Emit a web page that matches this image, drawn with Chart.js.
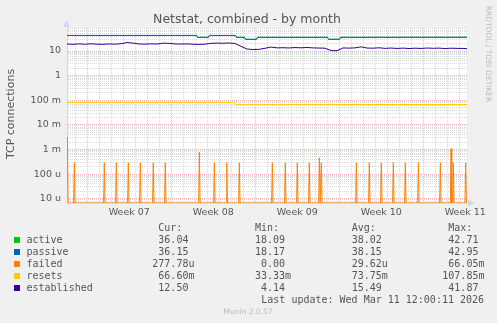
<!DOCTYPE html>
<html>
<head>
<meta charset="utf-8">
<script src="https://cdn.jsdelivr.net/npm/chart.js@4.4.1/dist/chart.umd.min.js"></script>
<style>
  html, body { margin:0; padding:0; background:#f0f0f0; }
  #wrap { width:497px; height:323px; }
</style>
</head>
<body>
<div id="wrap"><canvas id="netstat" width="497" height="323"></canvas></div>
<script>
// dados (x em dias desde o inicio do periodo)
const X_MAX = 33.33;
const Y_MIN = 6.7e-6;
const Y_MAX = 86;

const weekStartDays = [1.69, 8.69, 15.69, 22.69, 29.69];
const weekLabelDays = [5.19, 12.19, 19.19, 26.19, 33.19];
const weekLabels = ['Week 07', 'Week 08', 'Week 09', 'Week 10', 'Week 11'];

const yTickVals = [1e-5, 1e-4, 1e-3, 1e-2, 1e-1, 1, 10];
const yTickLabels = ['10 u', '100 u', '1 m', '10 m', '100 m', '1', '10'];

const seriesNames = ['active', 'passive', 'failed', 'resets', 'established'];
const seriesColors = ['#00CC00', '#0066B3', '#FF8000', '#FFCC00', '#330099'];

const passiveDays = [0, 10.78, 10.88, 11.78, 11.88, 14.03, 14.13, 14.78, 14.88, 15.78, 15.88, 21.7, 21.8, 22.7, 22.8, 33.33];
const passiveVals = [43, 43, 36, 36, 43, 43, 36, 36, 30, 30, 36, 36, 30, 30, 36, 36.15];
const activeDays = [0, 10.78, 10.88, 11.78, 11.88, 14.03, 14.13, 14.78, 14.88, 15.78, 15.88, 21.7, 21.8, 22.7, 22.8, 33.33];
const activeVals = [42.7, 42.7, 35.8, 35.8, 42.7, 42.7, 35.8, 35.8, 29.8, 29.8, 35.8, 35.8, 29.8, 29.8, 35.8, 36.04];

const resetsDays = [0, 13.95, 14.05, 33.33];
const resetsVals = [0.08, 0.08, 0.068, 0.0666];

// failed: zero na maior parte, picos diarios
const failedSpikeDays = [0.03, 0.61, 3.11, 4.11, 5.11, 6.11, 7.19, 8.19, 11.03, 12.28, 13.31, 14.36,
  17.11, 18.19, 19.19, 20.19, 21.03, 21.19, 24.11, 25.19, 26.19, 27.19, 28.19, 29.28, 31.11, 32.0, 32.19, 33.22];
const failedSpikeVals = [3.1e-3, 2.9e-4, 2.9e-4, 2.9e-4, 2.9e-4, 2.9e-4, 2.9e-4, 2.9e-4, 7.8e-4, 2.9e-4, 2.9e-4, 2.9e-4,
  2.9e-4, 2.9e-4, 2.9e-4, 2.9e-4, 4.6e-4, 2.9e-4, 2.9e-4, 2.9e-4, 2.9e-4, 2.9e-4, 2.9e-4, 2.9e-4, 2.9e-4, 1.07e-3, 2.9e-4, 2.9e-4];

// established, uma amostra a cada meio dia
const estVals = [19.3, 18.6, 19.5, 18.8, 19.6, 19.0, 18.7, 19.4, 19.0, 19.8,
  22.0, 21.0, 19.3, 19.0, 19.6, 19.2, 20.8, 20.5, 19.4, 19.2,
  19.5, 18.8, 18.6, 18.9, 20.5, 21.0, 20.6, 21.2, 20.2, 15.5,
  12.0, 11.5, 11.7, 12.9, 14.5, 13.4, 13.6, 13.3, 13.8, 13.5,
  13.9, 13.4, 13.2, 13.0, 10.4, 10.3, 13.3, 13.1, 13.4, 14.8,
  13.2, 13.0, 13.5, 12.8, 13.2, 12.7, 13.1, 12.6, 13.0, 12.7,
  13.2, 12.9, 13.1, 12.6, 13.0, 12.8, 12.7, 12.5];

const curVals = ['36.04', '36.15', '277.78u', '66.60m', '12.50'];
const minVals = ['18.09', '18.17', '0.00', '33.33m', '4.14'];
const avgVals = ['38.02', '38.15', '29.62u', '73.75m', '15.49'];
const maxVals = ['42.71', '42.95', '66.05m', '107.85m', '41.87'];
const lastUpdate = 'Last update: Wed Mar 11 12:00:11 2026';
const footer = 'Munin 2.0.57';

const GRID = 'rgba(143,143,143,0.33)';
const MGRID = 'rgba(222,80,80,0.38)';
const AXIS = '#CFD6F8';
const FONT_COLOR = '#555555';

function pares(days, vals){
  return vals.map((v, i) => ({x: days[i], y: v}));
}

function dadosFailed(){
  let pts = [{x: 0, y: Y_MIN}];
  for(let i=0;i<failedSpikeDays.length;i++){
    let d = failedSpikeDays[i];
    pts.push({x: d-0.06, y: 0});
    pts.push({x: d, y: failedSpikeVals[i]});
    pts.push({x: d+0.06, y: 0});
  }
  pts.push({x: X_MAX, y: 0});
  // zero nao existe em escala log: fica no fundo do grafico
  return pts.map(p => ({x: p.x, y: p.y === 0 ? Y_MIN : p.y}));
}

function dadosEst(){
  return estVals.map((v, i) => ({x: Math.min(i*0.5, X_MAX), y: v}));
}

function ehDecada(v){
  let l = Math.log10(v);
  return Math.abs(l - Math.round(l)) < 1e-6;
}

function ehSemana(v){
  return weekStartDays.some(w => Math.abs(w - v) < 1e-6);
}

let yGrid = [];
for(let e=-6;e<=1;e++){
  for(let k=1;k<=9;k++){
    let v = k*Math.pow(10, e);
    if(v >= Y_MIN && v <= Y_MAX) yGrid.push(v);
  }
}
let dayGrid = [];
for(let d=weekStartDays[0]-1; d<X_MAX; d+=1){
  dayGrid.push(Math.round(d*100)/100);
}

const fundo = {
  id: 'fundo',
  beforeDraw(chart){
    const c = chart.ctx, a = chart.chartArea;
    c.save();
    c.fillStyle = '#F0F0F0';
    c.fillRect(0, 0, chart.width, chart.height);
    c.fillStyle = '#FFFFFF';
    c.fillRect(a.left, a.top, a.right-a.left, a.bottom-a.top);
    c.restore();
  }
};

const textos = {
  id: 'textos',
  afterDraw(chart){
    const c = chart.ctx, a = chart.chartArea;
    c.save();
    // setas dos eixos
    c.fillStyle = AXIS;
    c.beginPath(); c.moveTo(a.left-0.5, a.top-8); c.lineTo(a.left-4, a.top-1); c.lineTo(a.left+3, a.top-1); c.fill();
    c.beginPath(); c.moveTo(a.right+8, a.bottom); c.lineTo(a.right+1, a.bottom-3.5); c.lineTo(a.right+1, a.bottom+3.5); c.fill();

    c.fillStyle = FONT_COLOR;
    c.textBaseline = 'middle';
    c.textAlign = 'center';
    c.font = '12.5px "DejaVu Sans"';
    c.fillText('Netstat, combined - by month', 247, 19.5);

    c.save();
    c.translate(11, 114);
    c.rotate(-Math.PI/2);
    c.font = '11px "DejaVu Sans"';
    c.fillText('TCP connections', 0, 0);
    c.restore();

    c.save();
    c.translate(488, 54);
    c.rotate(Math.PI/2);
    c.fillStyle = '#BBBBBB';
    c.font = '7.5px "DejaVu Sans"';
    c.fillText('RRDTOOL / TOBI OETIKER', 0, 0);
    c.restore();

    // legenda
    c.textAlign = 'left';
    c.font = '10px "DejaVu Sans Mono"';
    const colX = [152.3, 249, 345.7, 442.3];
    const heads = ['Cur:', 'Min:', 'Avg:', 'Max:'];
    heads.forEach((h, i) => c.fillText(h, colX[i]+6, 228.5));
    const cols = [curVals, minVals, avgVals, maxVals];
    for(let r=0;r<seriesNames.length;r++){
      let y = 240 + r*12;
      c.fillStyle = seriesColors[r];
      c.fillRect(14, y-3, 6, 6);
      c.fillStyle = FONT_COLOR;
      c.fillText(seriesNames[r], 26.5, y);
      for(let k=0;k<4;k++){
        let m = cols[k][r].match(/^([\d.]+)(\D?)$/);
        c.fillText(m[1].padStart(6, ' ') + m[2], colX[k], y);
      }
    }
    c.fillText(lastUpdate, 261.3, 300);
    c.textAlign = 'center';
    c.fillStyle = '#BBBBBB';
    c.font = '7.5px "DejaVu Sans"';
    c.fillText(footer, 248, 312.5);
    c.restore();
  }
};

function linha(i, data, order){
  return {
    label: seriesNames[i],
    data: data,
    borderColor: seriesColors[i],
    backgroundColor: seriesColors[i],
    borderWidth: 1,
    pointRadius: 0,
    tension: 0,
    fill: false,
    order: order,
    xAxisID: 'xg',
    yAxisID: 'y'
  };
}

window.addEventListener('load', () => {
  const el = document.getElementById('netstat');
  new Chart(el, {
    type: 'line',
    data: {
      datasets: [
        linha(0, pares(activeDays, activeVals), 5),
        linha(1, pares(passiveDays, passiveVals), 4),
        linha(2, dadosFailed(), 3),
        linha(3, pares(resetsDays, resetsVals), 2),
        linha(4, dadosEst(), 1)
      ]
    },
    options: {
      responsive: false,
      animation: false,
      devicePixelRatio: 1,
      layout: { padding: { top: 28, right: 30, bottom: 100, left: 0 } },
      plugins: { legend: { display: false }, tooltip: { enabled: false }, title: { display: false } },
      scales: {
        y: {
          type: 'logarithmic',
          position: 'left',
          min: Y_MIN,
          max: Y_MAX,
          afterBuildTicks: s => { s.ticks = yGrid.map(v => ({value: v})); },
          afterFit: s => { s.width = 67; s.paddingTop = 0; s.paddingBottom = 0; },
          ticks: {
            autoSkip: false,
            padding: 6,
            color: FONT_COLOR,
            font: { family: 'DejaVu Sans', size: 9.5 },
            callback: v => {
              let i = yTickVals.findIndex(t => Math.abs(Math.log10(t) - Math.log10(v)) < 1e-6);
              return i >= 0 ? yTickLabels[i] : '';
            }
          },
          grid: { drawTicks: false, lineWidth: 1, color: ctx => ehDecada(ctx.tick.value) ? MGRID : GRID },
          border: { display: true, color: AXIS, width: 1, dash: [1, 1] }
        },
        xg: {
          type: 'linear',
          position: 'bottom',
          min: 0,
          max: X_MAX,
          afterBuildTicks: s => { s.ticks = dayGrid.map(v => ({value: v})); },
          afterFit: s => { s.height = 0; s.paddingLeft = 0; s.paddingRight = 0; },
          ticks: { display: false },
          grid: { drawTicks: false, lineWidth: 1, color: ctx => ehSemana(ctx.tick.value) ? MGRID : GRID },
          border: { display: true, color: AXIS, width: 1, dash: [1, 1] }
        },
        xl: {
          type: 'linear',
          position: 'bottom',
          min: 0,
          max: X_MAX,
          afterBuildTicks: s => { s.ticks = weekLabelDays.map(v => ({value: v})); },
          afterFit: s => { s.height = 20; s.paddingLeft = 0; s.paddingRight = 0; },
          ticks: {
            autoSkip: false,
            maxRotation: 0,
            padding: 4,
            color: FONT_COLOR,
            font: { family: 'DejaVu Sans', size: 9.5 },
            callback: (v, i) => weekLabels[i]
          },
          grid: { display: false, drawTicks: false },
          border: { display: false }
        }
      }
    },
    plugins: [fundo, textos]
  });
});
</script>
</body>
</html>
